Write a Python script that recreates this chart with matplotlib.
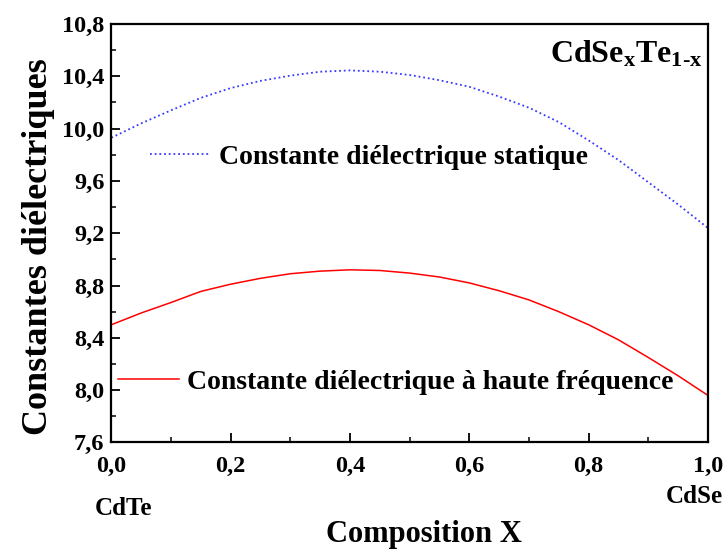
import numpy as np
import matplotlib
matplotlib.use('Agg')
import matplotlib.pyplot as plt

plt.rcParams['font.family'] = ['Liberation Serif', 'DejaVu Serif']
plt.rcParams['font.weight'] = 'bold'
plt.rcParams['mathtext.fontset'] = 'custom'
plt.rcParams['mathtext.rm'] = 'Liberation Serif:bold'
plt.rcParams['mathtext.it'] = 'Liberation Serif:bold'
plt.rcParams['mathtext.bf'] = 'Liberation Serif:bold'

# composition x (CdTe -> CdSe)
x = [0.0, 0.05, 0.1, 0.15, 0.2, 0.25, 0.3, 0.35, 0.4, 0.45, 0.5,
     0.55, 0.6, 0.65, 0.7, 0.75, 0.8, 0.85, 0.9, 0.95, 1.0]
eps_static = [9.93, 10.04, 10.14, 10.235, 10.31, 10.365, 10.405, 10.435, 10.445, 10.435, 10.41,
              10.37, 10.32, 10.245, 10.16, 10.05, 9.91, 9.76, 9.59, 9.42, 9.24]
eps_hf = [8.50, 8.59, 8.67, 8.755, 8.81, 8.855, 8.89, 8.91, 8.92, 8.915, 8.895,
          8.865, 8.82, 8.76, 8.69, 8.60, 8.50, 8.385, 8.25, 8.11, 7.96]

label_static = 'Constante diélectrique statique'
label_hf = 'Constante diélectrique à haute fréquence'
xticks = [0.0, 0.2, 0.4, 0.6, 0.8, 1.0]
yticks = [7.6, 8.0, 8.4, 8.8, 9.2, 9.6, 10.0, 10.4, 10.8]

fig = plt.figure(figsize=(7.27, 5.54), dpi=100)
ax = fig.add_axes([0.1532, 0.2014, 0.8205, 0.7553])

l1, = ax.plot(x, eps_static, color='#3a3aff', ls=(0, (1, 1.6)), lw=1.3)
l2, = ax.plot(x, eps_hf, color='#ff0000', lw=1.1)

ax.set_xlim(0, 1)
ax.set_ylim(7.6, 10.8)
ax.set_xticks(xticks)
ax.set_xticklabels([('%.1f' % v).replace('.', ',') for v in xticks])
ax.set_yticks(yticks)
ax.set_yticklabels([('%.1f' % v).replace('.', ',') for v in yticks])
ax.set_xticks(np.arange(0.1, 1.0, 0.2), minor=True)
ax.set_yticks(np.arange(7.8, 10.8, 0.4), minor=True)

for s in ax.spines.values():
    s.set_linewidth(1.6)
ax.tick_params(which='major', direction='in', length=6.5, width=1.3, labelsize=17.5)
ax.tick_params(which='minor', direction='in', length=3.8, width=1.1)
ax.tick_params(axis='x', which='major', pad=10)
ax.tick_params(axis='y', which='major', pad=5)

ax.set_xlabel('Composition X', fontsize=22, fontweight='bold')
ax.xaxis.set_label_coords(0.524, -0.185)
ax.set_ylabel('Constantes diélectriques', fontsize=26, fontweight='bold')
ax.yaxis.set_label_coords(-0.095, 0.467)

leg1 = ax.legend([l1], [label_static], loc='center left', bbox_to_anchor=(0.0647, 0.682),
                 frameon=False, fontsize=20, handlelength=2.2, handletextpad=0.3,
                 borderpad=0, borderaxespad=0)
ax.add_artist(leg1)
ax.legend([l2], [label_hf], loc='center left', bbox_to_anchor=(0.011, 0.144),
          frameon=False, fontsize=20, handlelength=2.2, handletextpad=0.3,
          borderpad=0, borderaxespad=0)

ax.text(0.992, 0.907, r'$\mathrm{CdSe_{x}Te_{1\text{-}x}}$', transform=ax.transAxes,
        ha='right', va='baseline', fontsize=23)
ax.text(0.021, -0.157, 'CdTe', transform=ax.transAxes, ha='center', va='center', fontsize=18)
ax.text(0.978, -0.130, 'CdSe', transform=ax.transAxes, ha='center', va='center', fontsize=18)

fig.savefig('out.png', dpi=100)
